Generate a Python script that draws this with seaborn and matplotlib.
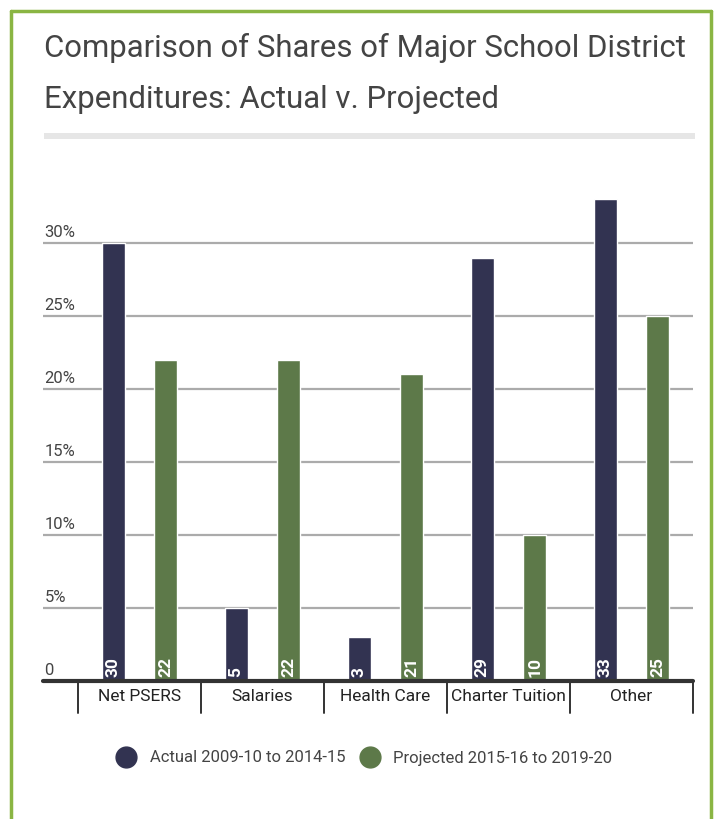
import pandas as pd
import seaborn as sns
import matplotlib.pyplot as plt
from matplotlib.lines import Line2D
from matplotlib.patches import Rectangle
import matplotlib.transforms as mtransforms

categories = ["Net PSERS", "Salaries", "Health Care", "Charter Tuition", "Other"]
actual = [30, 5, 3, 29, 33]
projected = [22, 22, 21, 10, 25]
series_names = ["Actual 2009-10 to 2014-15", "Projected 2015-16 to 2019-20"]
y_ticks = [0, 5, 10, 15, 20, 25, 30]
y_tick_labels = ["0", "5%", "10%", "15%", "20%", "25%", "30%"]
colors = ["#323351", "#5d7949"]

df = pd.DataFrame({
    "category": categories * 2,
    "value": actual + projected,
    "series": [series_names[0]] * 5 + [series_names[1]] * 5,
})

sns.set_theme(style="white")
plt.rcParams["font.family"] = ["Roboto", "DejaVu Sans"]

W, H = 715, 819
fig = plt.figure(figsize=(W / 100, H / 100), dpi=100)
fig.patch.set_facecolor("white")

# axes placed in pixel terms
left, right, top, bottom = 43, 693, 170, 681
ax = fig.add_axes([left / W, 1 - bottom / H, (right - left) / W, (bottom - top) / H])

sns.barplot(data=df, x="category", y="value", hue="series", palette=colors,
            width=0.86, gap=0.565, saturation=1, ax=ax, legend=False)

ax.set_xlim(-0.785, 4.5)
ax.set_ylim(0, 35)
for s in ax.spines.values():
    s.set_visible(False)
ax.set_xlabel("")
ax.set_ylabel("")
ax.set_yticks([])

# gridlines + y labels
for t, lab in zip(y_ticks, y_tick_labels):
    if t > 0:
        ax.axhline(t, color="#ababab", lw=1.6, zorder=0)
    ax.text(0.002, t + 0.2, lab, transform=ax.get_yaxis_transform(),
            ha="left", va="bottom", fontsize=12, color="#444444")

# baseline
ax.axhline(0, color="#333333", lw=3, zorder=5, clip_on=False)

# category separators
trans = mtransforms.blended_transform_factory(ax.transData, ax.transAxes)
for i in range(len(categories) + 1):
    ax.plot([i - 0.5, i - 0.5], [0, -0.063], color="#333333", lw=1.4,
            transform=trans, clip_on=False)

ax.set_xticks(range(len(categories)))
ax.set_xticklabels(categories, fontsize=12.5, color="#222222")
ax.tick_params(axis="x", length=0, pad=6)

# value labels inside bars at bottom
for p in ax.patches:
    h = p.get_height()
    if h > 0:
        ax.text(p.get_x() + p.get_width() / 2, 0.25, f"{int(round(h))}",
                rotation=90, ha="center", va="bottom", color="white",
                fontsize=12.5, fontweight="bold")

# title
fig.text(44 / W, 1 - 48 / H, "Comparison of Shares of Major School District",
         fontsize=22.4, color="#444444", va="center", ha="left")
fig.text(44 / W, 1 - 100 / H, "Expenditures: Actual v. Projected",
         fontsize=22.4, color="#444444", va="center", ha="left")
fig.patches.append(Rectangle((44 / W, 1 - 139 / H), (695 - 44) / W, 6 / H,
                             transform=fig.transFigure, facecolor="#e6e6e6",
                             edgecolor="none"))

# legend
handles = [Line2D([], [], marker="o", ls="", markersize=15,
                  markerfacecolor=c, markeredgecolor=c) for c in colors]
fig.legend(handles, series_names, loc="center", ncol=2,
           bbox_to_anchor=(0.505, 1 - 758 / H), frameon=False, fontsize=12,
           handletextpad=0.4, columnspacing=0.5,
           labelcolor="#444444")

# green frame
border = "#8ab543"
fig.add_artist(Line2D([11 / W, 11 / W], [0, 1 - 11 / H], color=border, lw=2.5,
                      transform=fig.transFigure))
fig.add_artist(Line2D([11 / W, 711 / W], [1 - 11 / H, 1 - 11 / H], color=border,
                      lw=2.5, transform=fig.transFigure))
fig.add_artist(Line2D([711 / W, 711 / W], [0, 1 - 11 / H], color=border, lw=2.5,
                      transform=fig.transFigure))

fig.savefig("out.png", dpi=100)
